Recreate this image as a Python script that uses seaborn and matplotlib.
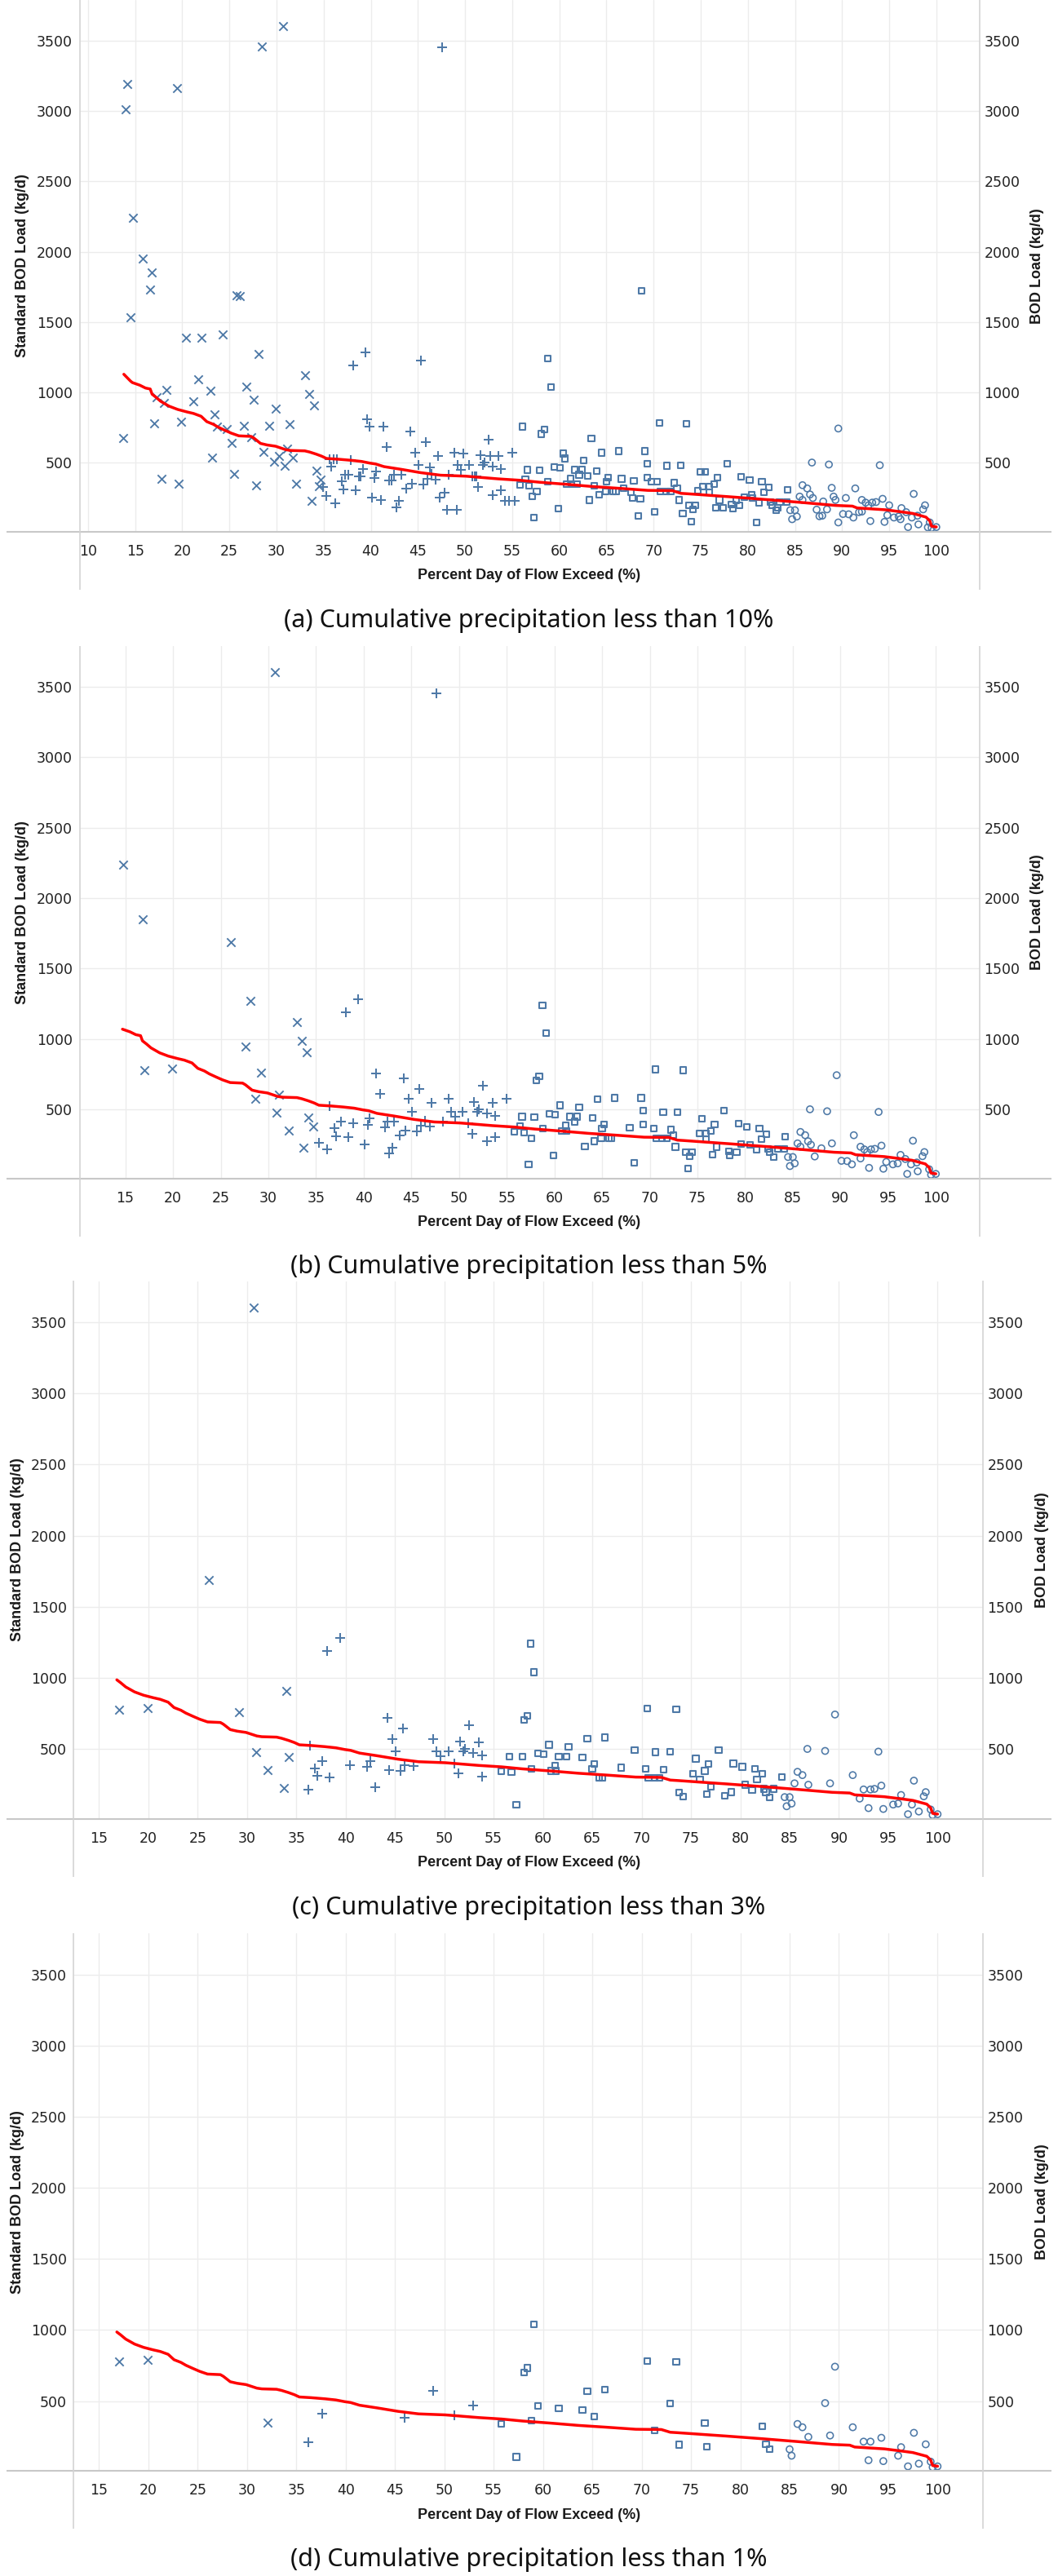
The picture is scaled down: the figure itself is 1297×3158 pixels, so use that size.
import numpy as np
import pandas as pd
import matplotlib
matplotlib.use("Agg")
import matplotlib.pyplot as plt
from matplotlib.lines import Line2D
import seaborn as sns

# ---------------- data ----------------
# precipitation class: smallest "cumulative precipitation less than X%" panel the sample appears in
high_x = [30.7, 28.4, 14.2, 14.0, 19.4, 14.8, 15.8, 16.8, 16.6, 14.5, 25.8, 26.1, 20.4, 22.0, 24.3, 28.1, 33.0, 21.7,
          26.8, 23.0, 18.3, 33.5, 34.0, 17.3, 18.1, 21.2, 27.6, 29.9, 23.4, 17.0, 19.9, 13.7, 23.7, 24.7, 26.5, 29.2,
          31.4, 25.2, 27.3, 23.2, 28.6, 30.3, 31.1, 29.7, 30.9, 31.7, 17.8, 19.6, 25.5, 27.8, 32.1, 34.2, 34.7, 34.5, 33.7]
high_load = [3603, 3461, 3195, 3014, 3164, 2240, 1948, 1852, 1728, 1532, 1690, 1685, 1390, 1390, 1410, 1271, 1121, 1090,
             1038, 1012, 1017, 986, 906, 964, 922, 936, 946, 882, 843, 777, 789, 672, 756, 738, 760, 760,
             771, 640, 678, 535, 574, 548, 601, 504, 475, 533, 382, 349, 421, 335, 349, 442, 380, 331, 225]
high_cls = [3, 10, 10, 10, 10, 5, 10, 5, 10, 10, 10, 3, 10, 10, 10, 5, 5, 10,
            10, 10, 10, 5, 3, 10, 10, 10, 5, 10, 10, 1, 1, 10, 10, 10, 10, 3,
            10, 10, 10, 10, 5, 10, 5, 10, 3, 10, 10, 10, 10, 10, 1, 3, 5, 10, 3]

moist_x = [47.6, 39.4, 38.1, 45.3, 39.6, 39.9, 41.3, 44.2, 41.7, 45.8, 44.7, 47.1, 48.9, 49.8, 51.6, 52.5, 52.7, 53.5,
           55.0, 45.1, 46.3, 49.2, 50.4, 49.6, 51.9, 52.9, 53.8, 52.1, 40.6, 41.9, 42.2, 42.5, 43.2, 44.4, 45.6, 46.0,
           46.4, 46.9, 48.3, 50.8, 51.0, 51.2, 51.4, 43.8, 41.1, 43.0, 42.7, 47.8, 47.3, 48.1, 49.1, 52.9, 53.8, 54.2,
           54.7, 55.3, 34.9, 35.3, 36.2, 35.6, 36.1, 36.4, 35.8, 37.9, 36.9, 37.3, 37.6, 37.1, 38.4, 38.7, 38.9, 39.2,
           40.4, 40.1]
moist_load = [3456, 1281, 1190, 1224, 806, 754, 756, 719, 610, 645, 572, 545, 572, 564, 554, 665, 545, 545,
              572, 481, 467, 484, 484, 448, 481, 471, 455, 500, 436, 374, 374, 413, 413, 351, 345, 384,
              417, 380, 413, 399, 399, 399, 326, 316, 233, 229, 184, 287, 248, 161, 161, 271, 304, 227,
              227, 227, 326, 262, 213, 525, 525, 525, 471, 516, 364, 413, 413, 310, 302, 403, 403, 455,
              388, 252]
moist_cls = [5, 3, 3, 10, 10, 10, 5, 3, 5, 3, 3, 5, 1, 10, 3, 3, 10, 3,
             5, 3, 10, 3, 3, 3, 3, 1, 3, 3, 5, 10, 3, 3, 5, 3, 3, 1,
             5, 3, 5, 10, 1, 10, 3, 5, 10, 3, 5, 10, 10, 10, 10, 5, 3, 10,
             10, 10, 10, 5, 1, 10, 10, 3, 10, 10, 3, 10, 1, 3, 3, 10, 5, 10,
             3, 5]

mid_x = [59.1, 58.75, 68.75, 56.1, 58.4, 58.1, 70.6, 63.4, 60.4, 60.6, 62.6, 64.5, 66.3, 69.1, 69.3, 71.4, 72.9,
         56.6, 57.9, 59.5, 60.1, 61.6, 62.4, 64.0, 62.1, 63.0, 56.4, 55.8, 56.8, 57.6, 57.1, 58.8, 61.2, 60.8,
         61.3, 61.9, 63.7, 65.2, 65.0, 64.9, 65.7, 66.0, 64.2, 63.2, 66.6, 66.8, 67.9, 67.6, 67.8, 68.6, 69.3,
         69.8, 70.4, 70.7, 71.3, 71.8, 72.2, 72.5, 72.7, 70.1, 68.4, 59.9, 57.3, 73.1, 73.5, 75.0, 75.5, 76.8,
         75.2, 75.9, 76.4, 74.7, 75.9, 79.3, 80.2, 81.5, 82.2, 81.7, 84.2, 73.8, 74.4, 74.2, 74.0, 77.0, 76.6,
         77.4, 78.3, 78.8, 79.1, 78.4, 79.6, 80.4, 80.5, 81.2, 82.4, 82.6, 83.4, 84.1, 83.0, 83.2, 80.9, 77.8]
mid_load = [1039, 1240, 1723, 756, 733, 703, 783, 671, 564, 529, 516, 570, 581, 581, 490, 477, 481,
            448, 446, 467, 461, 448, 448, 438, 413, 403, 380, 341, 335, 296, 258, 362, 384, 345,
            345, 345, 335, 393, 362, 295, 295, 295, 273, 234, 384, 316, 368, 287, 248, 242, 393,
            362, 362, 296, 296, 296, 355, 316, 233, 149, 122, 174, 108, 137, 777, 432, 432, 393,
            327, 327, 345, 300, 287, 397, 374, 362, 324, 287, 304, 194, 194, 167, 78, 233, 180,
            180, 200, 229, 196, 171, 252, 273, 248, 213, 219, 196, 219, 219, 161, 176, 72, 490]
mid_cls = [1, 3, 10, 10, 1, 1, 1, 10, 10, 3, 3, 1, 1, 5, 3, 3, 1,
           3, 3, 1, 3, 1, 3, 1, 5, 10, 5, 1, 3, 5, 10, 1, 3, 3,
           3, 10, 10, 1, 3, 5, 3, 3, 5, 5, 10, 10, 3, 10, 10, 10, 5,
           10, 3, 3, 1, 3, 3, 5, 5, 10, 5, 5, 1, 10, 1, 10, 3, 3,
           3, 5, 1, 10, 3, 3, 3, 3, 1, 3, 3, 1, 5, 3, 5, 3, 1,
           10, 5, 10, 3, 3, 5, 10, 3, 3, 3, 1, 3, 5, 1, 10, 10, 3]

low_x = [89.6, 86.8, 88.6, 94.0, 85.8, 86.3, 86.6, 85.5, 85.8, 86.9, 88.0, 88.9, 89.1, 89.3, 90.4, 91.4, 84.5, 85.0,
         84.7, 85.2, 87.3, 88.4, 87.6, 87.9, 89.6, 90.1, 90.7, 91.2, 91.8, 92.1, 92.1, 92.5, 92.8, 93.2, 93.6, 94.3,
         95.0, 93.0, 94.5, 94.8, 95.5, 96.0, 96.2, 96.3, 96.8, 97.6, 97.4, 98.0, 98.1, 97.0, 98.6, 98.8, 99.3, 99.1,
         99.5, 100.0]
low_load = [742, 500, 486, 481, 339, 316, 273, 258, 234, 248, 223, 320, 258, 234, 248, 316, 161, 161,
            97, 116, 165, 167, 118, 122, 74, 134, 132, 109, 147, 151, 234, 215, 196, 215, 219, 242,
            196, 84, 78, 126, 109, 116, 97, 176, 147, 277, 109, 122, 60, 41, 167, 196, 74, 39,
            35, 41]
low_cls = [1, 3, 1, 3, 1, 1, 5, 3, 5, 1, 5, 10, 1, 10, 10, 1, 3, 1,
           3, 1, 5, 10, 10, 10, 10, 5, 5, 5, 10, 3, 5, 1, 5, 1, 3, 1,
           10, 1, 1, 5, 3, 1, 10, 1, 5, 1, 3, 5, 1, 1, 3, 1, 1, 10,
           1, 1]

# standard (load duration) curve
std_x = [13.8, 14.5, 14.7, 15.5, 16.1, 16.6, 16.8, 17.2, 17.7, 18.6, 19.5, 20.5, 21.2, 22.0, 22.6, 23.3, 23.8, 24.5,
         25.2, 26.0, 27.3, 27.6, 28.3, 29.0, 29.9, 31.0, 31.5, 33.0, 33.5, 34.2, 34.8, 35.3, 36.5, 37.9, 39.0, 39.9,
         40.5, 41.4, 43.2, 45.3, 47.4, 50.1, 53.5, 55.8, 57.9, 60.8, 63.6, 66.5, 69.4, 72.0, 72.9, 73.6, 78.6, 82.1,
         85.7, 89.3, 91.1, 91.6, 94.6, 96.1, 97.5, 98.9, 99.3, 99.5, 100.0]
std_load = [1128, 1080, 1069, 1050, 1030, 1023, 986, 965, 936, 901, 878, 860, 849, 829, 791, 772, 752, 730,
            709, 690, 686, 674, 636, 625, 616, 591, 586, 583, 575, 560, 545, 529, 524, 516, 508, 496,
            490, 471, 452, 428, 410, 403, 384, 374, 360, 345, 329, 316, 302, 300, 281, 278, 254, 236,
            216, 195, 190, 177, 164, 151, 138, 112, 86, 47, 42]

panel_limits = [10, 5, 3, 1]
panel_captions = ["(a) Cumulative precipitation less than 10%",
                  "(b) Cumulative precipitation less than 5%",
                  "(c) Cumulative precipitation less than 3%",
                  "(d) Cumulative precipitation less than 1%"]
y_ticks = [500, 1000, 1500, 2000, 2500, 3000, 3500]

# ---------------- frame ----------------
regimes = ["High", "Moist", "Mid", "Low"]
frames = []
for name, xs, ys, cs in [("High", high_x, high_load, high_cls), ("Moist", moist_x, moist_load, moist_cls),
                         ("Mid", mid_x, mid_load, mid_cls), ("Low", low_x, low_load, low_cls)]:
    frames.append(pd.DataFrame({"pdf": xs, "load": ys, "cls": cs, "regime": name}))
df = pd.concat(frames, ignore_index=True)
std = pd.DataFrame({"pdf": std_x, "load": std_load})

BLUE = "#4e79a7"
GRID = "#ececec"
AXC = "#c8c8c8"
styles = {
    "High": dict(marker="x", s=55, linewidth=1.35, color=BLUE),
    "Moist": dict(marker="+", s=66, linewidth=1.45, color=BLUE),
    "Mid": dict(marker="s", s=27, linewidth=1.5, color=BLUE, facecolor="none", edgecolor=BLUE),
    "Low": dict(marker="o", s=34, linewidth=1.15, color=BLUE, facecolor="none", edgecolor=BLUE),
}

W, H, DPI = 1297, 3158, 100
sns.set_theme(style="white")
plt.rcParams["font.family"] = ["DejaVu Sans"]
fig = plt.figure(figsize=(W / DPI, H / DPI), dpi=DPI)

# pixel layout: left, right, top, bottom, ylabel-left-x, ylabel-right-x
LAYOUT = [(97.5, 1201, 0, 651.5, 28, 1271),
          (97.5, 1201, 792, 1444.5, 28, 1271),
          (90, 1205, 1570.5, 2229.5, 22, 1278),
          (90, 1205, 2370, 3029, 22, 1278)]

TITLE_FONT = dict(family=["Liberation Sans", "DejaVu Sans"], fontweight="bold", fontsize=13, color="#1a1a1a")


def line_px(x0, y0, x1, y1, color, lw):
    fig.add_artist(Line2D([x0 / W, x1 / W], [1 - y0 / H, 1 - y1 / H], transform=fig.transFigure,
                          color=color, linewidth=lw, solid_capstyle="butt"))


for (lpx, rpx, tpx, bpx, ylx, yrx), lim, cap in zip(LAYOUT, panel_limits, panel_captions):
    ax = fig.add_axes([lpx / W, 1 - bpx / H, (rpx - lpx) / W, (bpx - tpx) / H])
    sub = df[df["cls"] <= lim]
    xmin = sub["pdf"].min()
    ax.set_xlim(xmin - 4.6, 104.6)
    ax.set_ylim(10, 3790)
    ax.set_axisbelow(True)
    ax.grid(True, color=GRID, linewidth=1.0)

    for rg in regimes:
        d = sub[sub["regime"] == rg]
        sns.scatterplot(data=d, x="pdf", y="load", ax=ax, legend=False, zorder=3, **styles[rg])

    cur = std[std["pdf"] >= xmin - 0.25]
    sns.lineplot(data=cur, x="pdf", y="load", ax=ax, color="#ff0000", linewidth=2.5,
                 estimator=None, sort=True, zorder=4)

    xt = np.arange(np.ceil((xmin - 4.6) / 5) * 5, 100.1, 5)
    ax.set_xticks(xt)
    ax.set_xticklabels([f"{int(v)}" for v in xt])
    ax.set_yticks(y_ticks)
    ax.set_yticklabels([str(v) for v in y_ticks])
    ax.tick_params(axis="x", length=4, color=GRID, pad=7, labelsize=12.5, labelcolor="#222222")
    ax.tick_params(axis="y", length=0, pad=6, labelsize=12.5, labelcolor="#222222",
                   labelleft=True, labelright=False)
    ax.set_xlabel("")
    ax.set_ylabel("")
    for sp in ax.spines.values():
        sp.set_visible(False)

    ax2 = ax.twinx()
    ax2.set_ylim(ax.get_ylim())
    ax2.set_yticks(y_ticks)
    ax2.set_yticklabels([str(v) for v in y_ticks])
    ax2.tick_params(axis="y", length=0, pad=4, labelsize=12.5, labelcolor="#222222")
    for sp in ax2.spines.values():
        sp.set_visible(False)
    ax2.grid(False)

    # axis frame lines (Tableau style)
    line_px(8, bpx, 1289, bpx, AXC, 1.5)
    line_px(lpx, tpx, lpx, bpx + 71, "#d4d4d4", 1.2)
    line_px(rpx, tpx, rpx, bpx + 71, "#d4d4d4", 1.2)

    ymid = (tpx + bpx) / 2
    fig.text(ylx / W, 1 - ymid / H, "Standard BOD Load (kg/d)", rotation=90, ha="center", va="center", **TITLE_FONT)
    fig.text(yrx / W, 1 - ymid / H, "BOD Load (kg/d)", rotation=90, ha="center", va="center", **TITLE_FONT)
    fig.text(648.5 / W, 1 - (bpx + 54) / H, "Percent Day of Flow Exceed (%)", ha="center", va="center", **TITLE_FONT)
    fig.text(648.5 / W, 1 - (bpx + 109) / H, cap, ha="center", va="center",
             family=["Noto Sans", "DejaVu Sans"], fontsize=22, color="#111111")

fig.savefig("out.png", dpi=DPI, facecolor="white")
